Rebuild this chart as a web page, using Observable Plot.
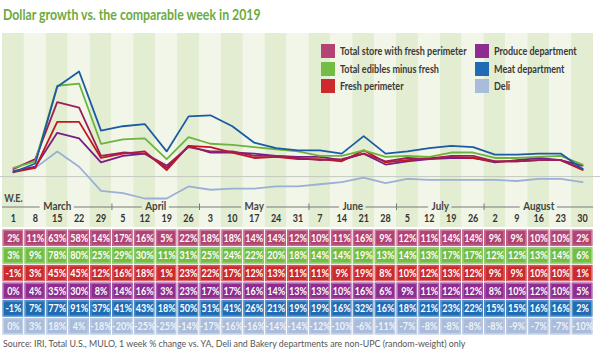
<!DOCTYPE html>
<html><head><meta charset="utf-8">
<script src="https://cdn.jsdelivr.net/npm/d3@7"></script>
<script src="https://cdn.jsdelivr.net/npm/@observablehq/plot@0.6"></script>
<style>
body{margin:0;background:#fff;}
#wrap{position:relative;width:600px;height:361px;overflow:hidden;font-family:Lato,sans-serif;}
#title{position:absolute;left:3px;top:4px;font-size:16px;font-weight:bold;color:#6dab3f;white-space:nowrap;transform:scaleX(0.77);transform-origin:left center;}
#chart{position:absolute;left:0;top:33px;}
#table{position:absolute;left:0;top:229px;}
#source{position:absolute;left:3px;top:338px;font-size:9.5px;color:#555;white-space:nowrap;transform:scaleX(0.93);transform-origin:left center;}
.lg{position:absolute;font-size:10.5px;font-weight:bold;color:#3a3a3a;white-space:nowrap;line-height:14px;transform:scaleX(0.86);transform-origin:left center;}
.sw{position:absolute;width:14px;height:14px;}
svg{display:block;}
</style></head>
<body><div id="wrap">
<div id="title">Dollar growth vs. the comparable week in 2019</div>
<div id="chart"></div>
<div id="table"></div>
<div id="source">Source: IRI, Total U.S., MULO, 1 week % change vs. YA, Deli and Bakery departments are non-UPC (random-weight) only</div>
</div>
<script>
const weeks = ["1","8","15","22","29","5","12","19","26","3","10","17","24","31","7","14","21","28","5","12","19","26","2","9","16","23","30"];
const months = ["March","April","May","June","July","August"];
const monthStarts = [0,5,9,14,18,22];

const seriesNames = ["Total store with fresh perimeter","Total edibles minus fresh","Fresh perimeter","Produce department","Meat department","Deli"];
const totalStore = [2,11,63,58,14,17,16,5,22,18,18,14,14,12,10,11,16,9,12,11,14,14,9,9,10,10,2];
const ediblesMinusFresh = [3,9,78,80,25,29,30,11,31,25,24,22,20,18,14,14,19,13,14,13,17,17,12,12,13,14,6];
const freshPerimeter = [-1,3,45,45,12,16,18,1,23,22,17,12,13,11,11,9,19,8,10,12,13,12,9,9,10,10,1];
const produce = [0,4,35,30,8,14,16,3,23,17,17,16,14,13,13,10,16,6,9,11,12,12,8,10,12,10,5];
const meat = [-1,7,77,91,37,41,43,18,50,51,41,26,21,19,19,16,32,16,18,21,23,22,15,15,16,16,2];
const deli = [0,3,18,4,-18,-20,-25,-25,-14,-17,-16,-16,-14,-14,-12,-10,-6,-11,-7,-8,-8,-8,-8,-9,-7,-7,-10];

const rowColors = ["#b24372","#74bd44","#cc2a2d","#8e2c8f","#1f6cb5","#a9bcdb"];
const lineColors = ["#9c1f56","#6cb33f","#c2161e","#7a1e87","#1b5ba4","#9ab0d6"];
const textColors = ["#fff","#fff","#fff","#fff","#fff","#eef2f9"];
const drawOrder = [5,3,2,0,1,4];

const series = [totalStore, ediblesMinusFresh, freshPerimeter, produce, meat, deli];
const idx = d3.range(weeks.length);
const xDomain = [-0.5, weeks.length - 0.5], xRange = [2, 593];
const yDomain = [-25, 91], yRange = [165, 38];
const yS = d3.scaleLinear(yDomain, yRange);
const SX = 0.86;

// month axis segments (gaps sized to the labels)
const cv = document.createElement("canvas").getContext("2d");
cv.font = "bold 11.5px Lato, sans-serif";
const pxPerUnit = (xRange[1]-xRange[0])/(xDomain[1]-xDomain[0]);
const monthEnds = monthStarts.map((s,j)=> j<monthStarts.length-1 ? monthStarts[j+1]-1 : weeks.length-1);
const monthCenters = monthStarts.map((s,j)=> (s+monthEnds[j])/2);
const segs = [];
months.forEach((m,j)=>{
  const half = (cv.measureText(m).width*SX/2 + 3)/pxPerUnit;
  segs.push({x1: monthStarts[j]-0.5, x2: monthCenters[j]-half});
  segs.push({x1: monthCenters[j]+half, x2: monthEnds[j]+0.5});
});
const bounds = monthStarts.slice(1).map(s=>s-0.5);

const lineData = drawOrder.flatMap(k => series[k].map((v,i)=>({i, v, k})));

const chart = Plot.plot({
  width: 600, height: 196, marginTop: 0, marginBottom: 2, marginLeft: 0, marginRight: 0,
  x: {type: "linear", domain: xDomain, range: xRange, axis: null},
  y: {type: "linear", domain: yDomain, range: yRange, axis: null},
  color: {type: "identity"},
  style: {fontFamily: "Lato, sans-serif", background: "transparent"},
  marks: [
    Plot.rect(idx, {x1: i=>i-0.5, x2: i=>i+0.5, fill: i=> i%2 ? "#f1f6e8" : "#e2edd2"}),
    Plot.ruleY([-5], {stroke: "#c5c9c0", strokeWidth: 1}),
    Plot.line(lineData, {x: "i", y: "v", z: "k", stroke: d=>lineColors[d.k], strokeWidth: 1.8}),
    Plot.text(["W.E."], {x: 0, y: yS.invert(165), fontWeight: "bold", fontSize: 10.5, fill: "#444"}),
    Plot.ruleY(segs, {x1: "x1", x2: "x2", y: yS.invert(173.5), stroke: "#7a7a7a", strokeWidth: 1}),
    Plot.ruleX(bounds, {y1: yS.invert(170.5), y2: yS.invert(177), stroke: "#7a7a7a", strokeWidth: 1}),
    Plot.text(months, {x: (d,j)=>monthCenters[j], y: yS.invert(173), fontWeight: "bold", fontSize: 11.5, fill: "#444"}),
    Plot.text(weeks, {x: (d,i)=>i, y: yS.invert(185.5), fontWeight: "bold", fontSize: 10.5, fill: "#333"})
  ]
});
document.getElementById("chart").appendChild(chart);

const cells = series.flatMap((s,r)=> s.map((v,i)=>({r, i, v})));
const table = Plot.plot({
  width: 600, height: 106, margin: 0,
  x: {type: "linear", domain: xDomain, range: xRange, axis: null},
  y: {type: "linear", domain: [-0.5, 5.5], range: [0, 106], axis: null},
  color: {type: "identity"},
  style: {fontFamily: "Lato, sans-serif", background: "transparent"},
  marks: [
    Plot.rect(cells, {x1: d=>d.i-0.5, x2: d=>d.i+0.5, y1: d=>d.r-0.5, y2: d=>d.r+0.5, fill: d=>rowColors[d.r], stroke: "white", strokeWidth: 1}),
    Plot.rect(cells, {x1: d=>d.i-0.5, x2: d=>d.i+0.5, y1: d=>d.r-0.5, y2: d=>d.r+0.5, inset: 1.5, fill: "none", stroke: "white", strokeOpacity: 0.3, strokeWidth: 1}),
    Plot.text(cells, {x: "i", y: "r", text: d=>d.v+"%", fill: d=>textColors[d.r], fontWeight: "bold", fontSize: 10.5})
  ]
});
document.getElementById("table").appendChild(table);

// condense SVG texts horizontally (the reference uses a condensed face)
for (const svg of [chart, table]) {
  svg.querySelectorAll("text").forEach(t => {
    const tr = t.getAttribute("transform");
    if (tr) t.setAttribute("transform", tr + ` scale(${SX},1)`);
  });
}

// legend
const wrap = document.getElementById("wrap");
const legendPos = [[321,51],[321,68.5],[321,86],[475,51],[475,68.5],[475,86]];
seriesNames.forEach((n,k)=>{
  const [lx,ly] = legendPos[k];
  const sw = document.createElement("div");
  sw.className = "sw";
  sw.style.left = lx+"px"; sw.style.top = (ly-7)+"px"; sw.style.background = rowColors[k];
  wrap.appendChild(sw);
  const t = document.createElement("div");
  t.className = "lg"; t.textContent = n;
  t.style.left = (lx+19)+"px"; t.style.top = (ly-7)+"px";
  wrap.appendChild(t);
});
</script>
</body></html>
